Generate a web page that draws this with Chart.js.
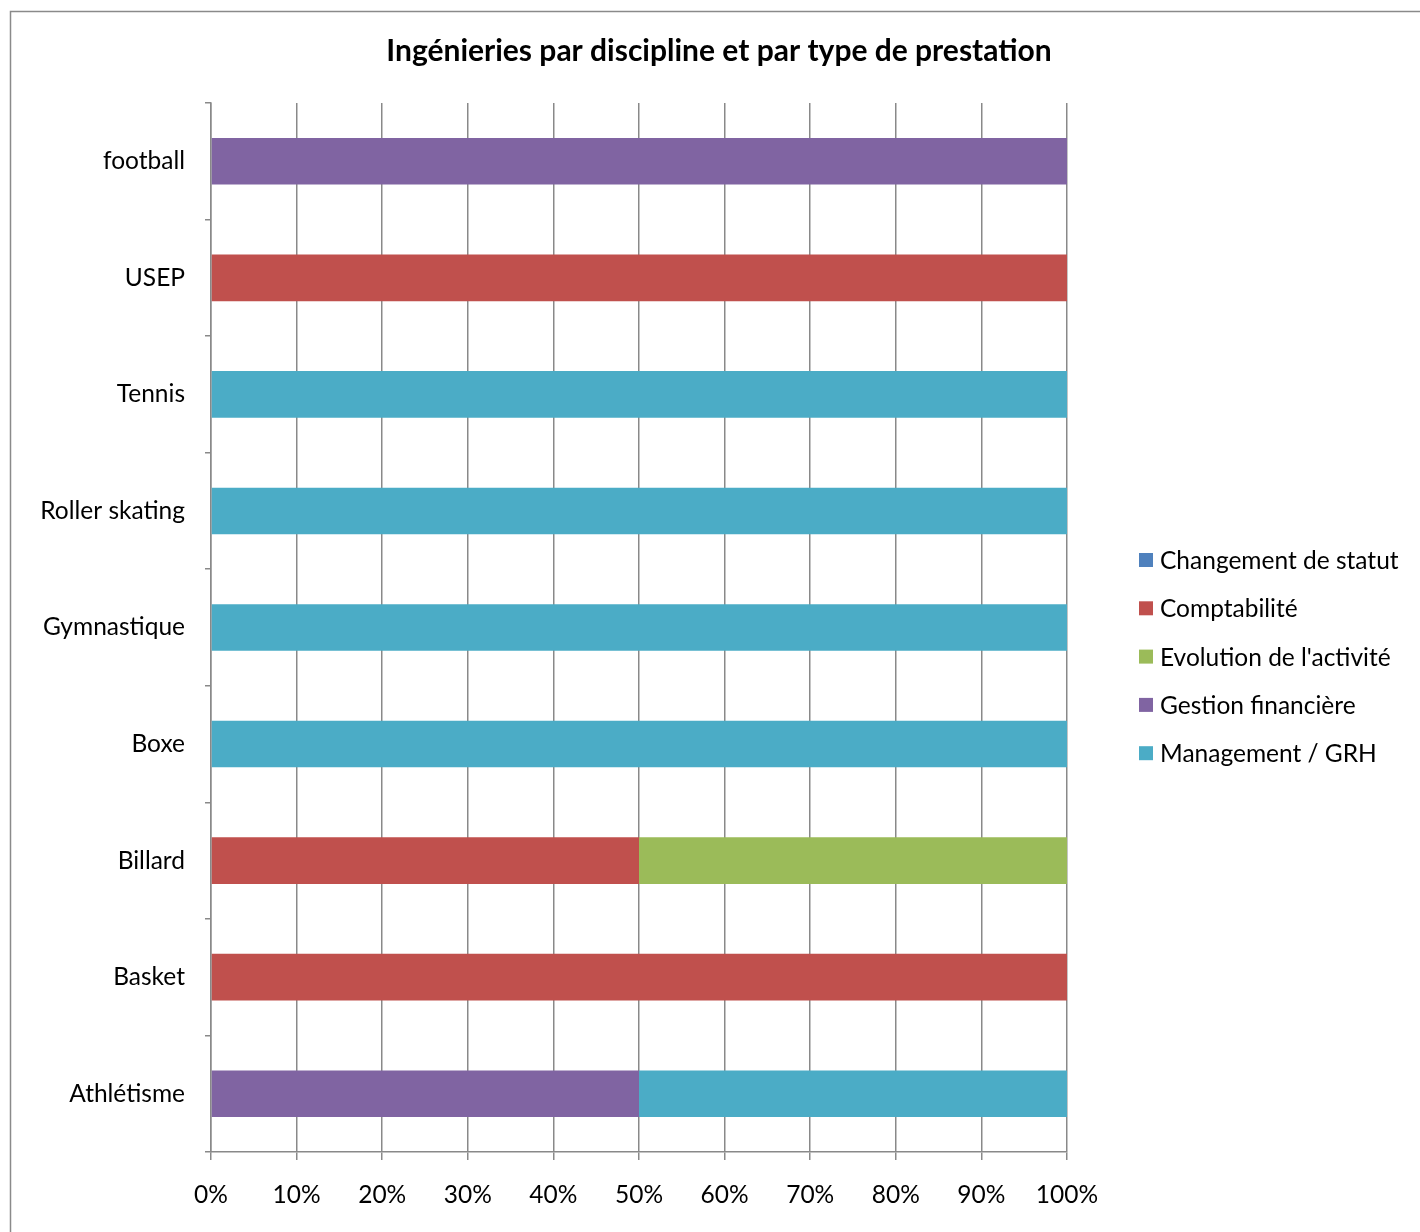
<!DOCTYPE html>
<html>
<head>
<meta charset="utf-8">
<script src="https://cdn.jsdelivr.net/npm/chart.js@4.4.1/dist/chart.umd.min.js"></script>
<style>
  html, body { margin: 0; padding: 0; background: #fff; }
  canvas { display: block; }
</style>
</head>
<body>
<canvas id="output" width="1420" height="1232"></canvas>
<script>
// categories in Excel order (first one is drawn at the bottom)
const categories = ["Athlétisme", "Basket", "Billard", "Boxe", "Gymnastique", "Roller skating", "Tennis", "USEP", "football"];

const seriesNames = ["Changement de statut", "Comptabilité", "Evolution de l'activité", "Gestion financière", "Management / GRH"];
const seriesColors = ["#4F81BD", "#C0504D", "#9BBB59", "#8064A2", "#4BACC6"];

// share of each prestation type, in %
const changement = [0, 0, 0, 0, 0, 0, 0, 0, 0];
const comptabilite = [0, 100, 50, 0, 0, 0, 0, 100, 0];
const evolution = [0, 0, 50, 0, 0, 0, 0, 0, 0];
const gestion = [50, 0, 0, 0, 0, 0, 0, 0, 100];
const management = [50, 0, 0, 100, 100, 100, 100, 0, 0];

const seriesValues = [changement, comptabilite, evolution, gestion, management];

const chartTitle = "Ingénieries par discipline et par type de prestation";

const FONT = "Lato, 'Open Sans', sans-serif";
const GRID = "#898989";

// outer frame of the chart (right and bottom edges fall off the picture)
const framePlugin = {
  id: "frame",
  beforeDraw(chart) {
    const ctx = chart.ctx;
    ctx.save();
    ctx.fillStyle = "#fff";
    ctx.fillRect(0, 0, chart.width, chart.height);
    ctx.strokeStyle = "#8a8a8a";
    ctx.lineWidth = 1.5;
    ctx.strokeRect(10.5, 11.5, chart.width + 50, chart.height + 50);
    ctx.restore();
  },
};

// title + legend drawn by hand to sit where Excel put them
const sideLegend = {
  id: "sideLegend",
  afterDraw(chart) {
    const ctx = chart.ctx;
    ctx.save();
    ctx.fillStyle = "#000";
    ctx.font = "bold 30px " + FONT;
    ctx.textAlign = "center";
    ctx.textBaseline = "middle";
    ctx.fillText(chartTitle, 719, 51);

    const x = 1139, y0 = 560, step = 48.3, box = 14;
    ctx.font = "24.5px " + FONT;
    ctx.textAlign = "left";
    chart.data.datasets.forEach((ds, i) => {
      const y = y0 + i * step;
      ctx.fillStyle = ds.backgroundColor;
      ctx.fillRect(x, y - box / 2, box, box);
      ctx.fillStyle = "#000";
      ctx.fillText(ds.label, x + box + 7, y + 1);
    });
    ctx.restore();
  },
};

const ctx = document.getElementById("output").getContext("2d");

new Chart(ctx, {
  type: "bar",
  data: {
    labels: categories,
    datasets: seriesNames.map((name, i) => ({
      label: name,
      data: seriesValues[i],
      backgroundColor: seriesColors[i],
      borderWidth: 0,
      categoryPercentage: 1,
      barPercentage: 0.4,
    })),
  },
  options: {
    indexAxis: "y",
    responsive: false,
    animation: false,
    layout: {
      padding: { left: 18, right: 353, top: 103, bottom: 0 },
    },
    scales: {
      x: {
        stacked: true,
        min: 0,
        max: 100,
        ticks: {
          stepSize: 10,
          color: "#000",
          padding: 20,
          font: { family: FONT, size: 24.5 },
          callback: (v) => v + "%",
        },
        grid: { color: GRID, lineWidth: 1.5, tickLength: 8 },
        border: { color: GRID, width: 1.5 },
        afterFit(axis) { axis.height = 80; },
      },
      y: {
        stacked: true,
        reverse: true,
        ticks: {
          color: "#000",
          padding: 20,
          font: { family: FONT, size: 24.5 },
        },
        grid: { drawOnChartArea: false, color: GRID, lineWidth: 1.5, tickLength: 6 },
        border: { color: GRID, width: 1.5 },
        afterFit(axis) { axis.width = 193; },
      },
    },
    plugins: {
      legend: { display: false },
      tooltip: { enabled: false },
      title: { display: false },
    },
  },
  plugins: [framePlugin, sideLegend],
});
</script>
</body>
</html>
